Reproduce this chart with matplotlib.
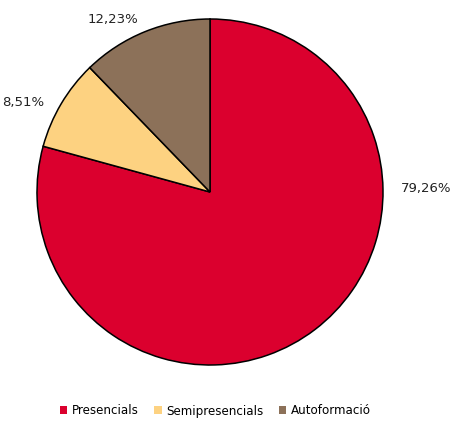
import matplotlib
matplotlib.use("Agg")
import matplotlib.pyplot as plt
from matplotlib.patches import Patch

categories = ["Presencials", "Semipresencials", "Autoformació"]
values = [79.26, 8.51, 12.23]
value_labels = ["79,26%", "8,51%", "12,23%"]
colors = ["#DB002E", "#FDD281", "#8C7159"]

W, H = 451, 424
fig = plt.figure(figsize=(W / 100, H / 100), dpi=100)
cx, cy, r = 210, 192, 173
ax = fig.add_axes([(cx - r) / W, (H - cy - r) / H, 2 * r / W, 2 * r / H])
ax.set_xlim(-1, 1)
ax.set_ylim(-1, 1)
ax.set_aspect("equal")
ax.axis("off")

ax.pie(values, colors=colors, startangle=90, counterclock=False, radius=1,
       center=(0, 0), frame=False,
       wedgeprops=dict(edgecolor="black", linewidth=1.1))
ax.set_xlim(-1, 1)
ax.set_ylim(-1, 1)

label_pos = [(1.25, 0.02), (-1.08, 0.52), (-0.56, 1.0)]
for (x, y), t in zip(label_pos, value_labels):
    ax.text(x, y, t, ha="center", va="center", fontsize=9.5, color="#222222",
            clip_on=False)

handles = [Patch(facecolor=c, edgecolor="none") for c in colors]
fig.legend(handles, categories, loc="center", bbox_to_anchor=(0.478, 1 - 411 / H),
           ncol=3, frameon=False, fontsize=8.6, handlelength=0.6, handleheight=0.6,
           handletextpad=0.4, columnspacing=1.3)

fig.savefig("out.png", dpi=100)
